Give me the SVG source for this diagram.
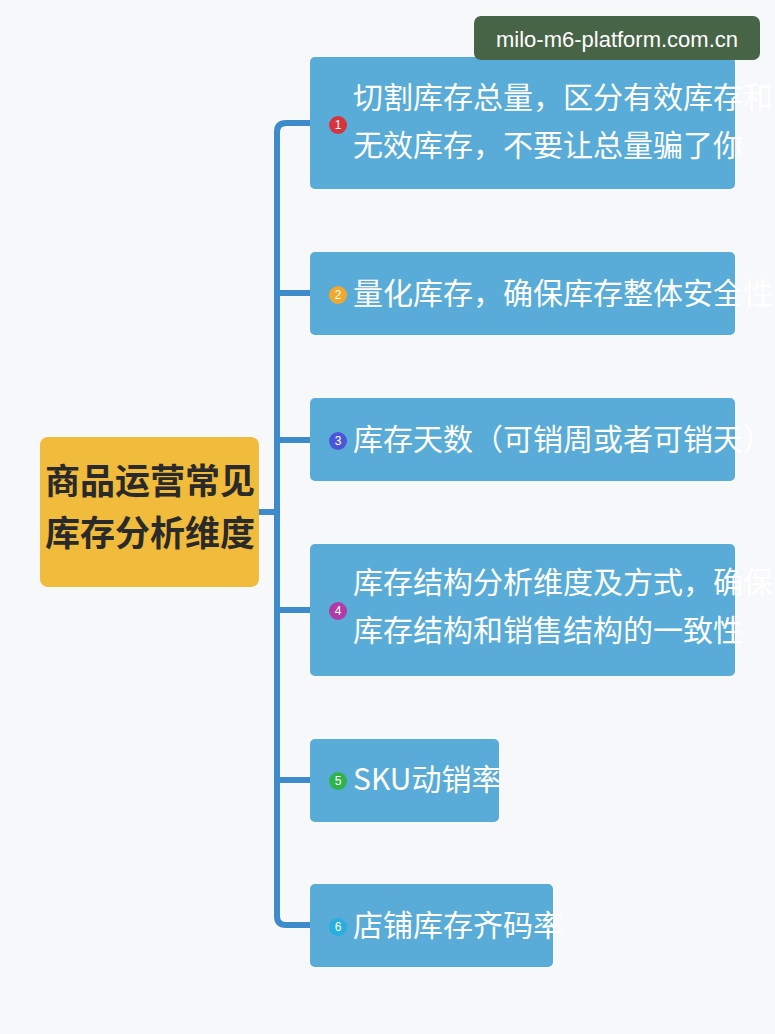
<svg xmlns="http://www.w3.org/2000/svg" width="775" height="1034" viewBox="0 0 775 1034">
<style>
.box{fill:#58acd7}
.t{font-family:"Noto Sans CJK SC","Liberation Sans",sans-serif;font-size:30px;fill:#fff}
.n{font-family:"Liberation Sans",sans-serif;font-size:12px;fill:#fff;text-anchor:middle}
.ln{fill:none;stroke:#3d8bcb;stroke-width:6}
</style>
<rect width="775" height="1034" fill="#f7f8fa"/>
<g id="connectors">
<path class="ln" d="M310 123 H286 Q277 123 277 132 V916 Q277 925 286 925 H310"/>
<path class="ln" d="M277 293 H310 M277 440 H310 M277 610 H310 M277 780 H310 M259 512 H277"/>
</g>
<g id="root"><rect x="40" y="437" width="219" height="150" rx="8" fill="#f1bb3b"/>
<text x="150" y="494" text-anchor="middle" font-family="Noto Sans CJK SC,sans-serif" font-size="35" font-weight="bold" fill="#2a2a2a">商品运营常见</text>
<text x="150" y="546" text-anchor="middle" font-family="Noto Sans CJK SC,sans-serif" font-size="35" font-weight="bold" fill="#2a2a2a">库存分析维度</text></g>
<g id="n1"><rect class="box" x="310" y="57" width="425" height="132" rx="5"/><circle cx="338" cy="125" r="9" fill="#d8323a"/><text class="n" x="338" y="129">1</text>
<text class="t" x="353" y="108">切割库存总量，区分有效库存和</text><text class="t" x="353" y="156">无效库存，不要让总量骗了你</text></g>
<g id="n2"><rect class="box" x="310" y="252" width="425" height="83" rx="5"/><circle cx="338" cy="295" r="9" fill="#f0a92c"/><text class="n" x="338" y="299">2</text>
<text class="t" x="353" y="304">量化库存，确保库存整体安全性</text></g>
<g id="n3"><rect class="box" x="310" y="398" width="425" height="83" rx="5"/><circle cx="338" cy="441" r="9" fill="#4a55d8"/><text class="n" x="338" y="445">3</text>
<text class="t" x="353" y="450">库存天数（可销周或者可销天）</text></g>
<g id="n4"><rect class="box" x="310" y="544" width="425" height="132" rx="5"/><circle cx="338" cy="611" r="9" fill="#b03aa8"/><text class="n" x="338" y="615">4</text>
<text class="t" x="353" y="593">库存结构分析维度及方式，确保</text><text class="t" x="353" y="641">库存结构和销售结构的一致性</text></g>
<g id="n5"><rect class="box" x="310" y="739" width="189" height="83" rx="5"/><circle cx="338" cy="781" r="9" fill="#2fb34a"/><text class="n" x="338" y="785">5</text>
<text class="t" x="353" y="790">SKU动销率</text></g>
<g id="n6"><rect class="box" x="310" y="884" width="243" height="83" rx="5"/><circle cx="338" cy="927" r="9" fill="#2aaee0"/><text class="n" x="338" y="931">6</text>
<text class="t" x="353" y="936">店铺库存齐码率</text></g>
<g id="wm"><rect x="474" y="16" width="286" height="44" rx="7" fill="#486447"/>
<text x="617" y="47" text-anchor="middle" font-family="Liberation Sans,sans-serif" font-size="22" fill="#fff">milo-m6-platform.com.cn</text></g>
</svg>
